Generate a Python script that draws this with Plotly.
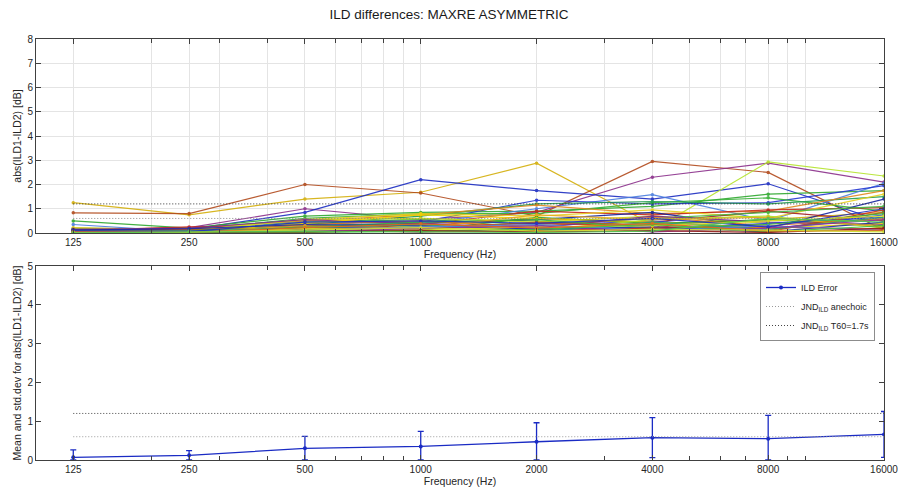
import plotly.graph_objects as go

# ---------------- data ----------------
freqs = [125, 250, 500, 1000, 2000, 4000, 8000, 16000]
freq_labels = ["125", "250", "500", "1000", "2000", "4000", "8000", "16000"]
minor_freqs = [200, 300, 400, 600, 700, 800, 900, 3000, 5000, 6000, 7000, 9000, 10000]
top_yticks = [0, 1, 2, 3, 4, 5, 6, 7, 8]
bottom_yticks = [0, 1, 2, 3, 4, 5]

# individual |ILD1-ILD2| curves (dB), one per measurement position
ild_s01 = [1.25, 0.75, 1.40, 1.68, 2.88, 0.35, 0.55, 0.85]
ild_s02 = [0.83, 0.80, 2.00, 1.65, 0.70, 2.95, 2.50, 0.12]
ild_s03 = [0.10, 0.22, 1.00, 0.55, 0.85, 2.30, 2.88, 2.10]
ild_s04 = [0.10, 0.15, 0.85, 2.20, 1.75, 1.40, 2.03, 0.47]
ild_s05 = [0.08, 0.05, 0.30, 0.60, 0.50, 0.12, 2.93, 2.35]
ild_s06 = [0.50, 0.20, 0.70, 0.85, 0.90, 1.10, 1.60, 1.75]
ild_s07 = [0.35, 0.05, 0.50, 0.40, 1.00, 1.58, 0.50, 2.05]
ild_s08 = [0.15, 0.10, 0.40, 0.45, 1.35, 1.20, 1.25, 1.95]
ild_s09 = [0.20, 0.15, 0.60, 0.80, 0.80, 1.25, 1.45, 0.90]
ild_s10 = [0.10, 0.10, 0.35, 0.70, 1.20, 1.30, 1.20, 1.50]
ild_s11 = [0.15, 0.20, 0.50, 0.75, 1.15, 0.80, 0.90, 1.75]
ild_s12 = [0.10, 0.25, 0.30, 0.35, 0.90, 0.75, 0.95, 1.05]
ild_s13 = [0.22, 0.12, 0.55, 0.80, 0.70, 0.95, 0.60, 1.60]
ild_s14 = [0.05, 0.05, 0.30, 0.40, 0.55, 0.85, 0.20, 1.40]
ild_s15 = [0.12, 0.15, 0.20, 0.30, 0.60, 0.45, 0.90, 0.50]
ild_s16 = [0.05, 0.08, 0.45, 0.55, 0.35, 0.60, 0.85, 1.10]
ild_s17 = [0.08, 0.05, 0.25, 0.20, 0.30, 0.50, 0.15, 0.75]
ild_s18 = [0.05, 0.10, 0.55, 0.60, 0.45, 0.70, 0.40, 0.55]
ild_s19 = [0.10, 0.05, 0.15, 0.10, 0.65, 0.40, 0.55, 0.30]
ild_s20 = [0.04, 0.12, 0.35, 0.50, 0.25, 0.65, 0.30, 0.60]
ild_s21 = [0.06, 0.08, 0.10, 0.25, 0.40, 0.30, 0.05, 0.95]
ild_s22 = [0.15, 0.20, 0.55, 0.40, 0.20, 0.70, 0.45, 0.35]
ild_s23 = [0.02, 0.03, 0.15, 0.05, 0.20, 0.15, 0.40, 0.65]
ild_s24 = [0.03, 0.06, 0.40, 0.75, 0.60, 0.45, 0.20, 0.40]
ild_s25 = [0.05, 0.02, 0.05, 0.30, 0.10, 0.55, 0.70, 0.20]
ild_s26 = [0.08, 0.15, 0.20, 0.15, 0.45, 0.35, 0.10, 0.85]
ild_s27 = [0.02, 0.10, 0.25, 0.45, 0.55, 0.20, 0.35, 0.80]
ild_s28 = [0.12, 0.18, 0.35, 0.30, 0.15, 0.25, 0.05, 0.45]
ild_s29 = [0.02, 0.05, 0.30, 0.20, 0.75, 0.55, 0.65, 0.25]
ild_s30 = [0.03, 0.04, 0.12, 0.05, 0.10, 0.20, 0.25, 0.15]
ild_s31 = [0.07, 0.09, 0.20, 0.35, 0.05, 0.45, 0.15, 0.65]
ild_s32 = [0.01, 0.02, 0.10, 0.25, 0.35, 0.10, 0.30, 0.10]
ild_s33 = [0.04, 0.03, 0.18, 0.12, 0.25, 0.30, 0.50, 0.70]
ild_s34 = [0.06, 0.07, 0.08, 0.18, 0.30, 0.05, 0.20, 0.55]
ild_s35 = [0.03, 0.01, 0.02, 0.08, 0.15, 0.35, 0.05, 0.30]
ild_s36 = [0.02, 0.03, 0.05, 0.10, 0.05, 0.10, 0.02, 0.20]
ild_s37 = [0.09, 0.06, 0.45, 0.50, 0.40, 0.60, 0.25, 1.00]
ild_s38 = [0.05, 0.02, 0.22, 0.38, 0.20, 0.40, 0.08, 0.10]
ild_s39 = [0.02, 0.04, 0.12, 0.22, 0.08, 0.15, 0.12, 0.05]
ild_s40 = [0.01, 0.05, 0.07, 0.05, 0.02, 0.08, 0.60, 0.45]

ild_series = [ild_s01, ild_s02, ild_s03, ild_s04, ild_s05, ild_s06, ild_s07, ild_s08,
              ild_s09, ild_s10, ild_s11, ild_s12, ild_s13, ild_s14, ild_s15, ild_s16,
              ild_s17, ild_s18, ild_s19, ild_s20, ild_s21, ild_s22, ild_s23, ild_s24,
              ild_s25, ild_s26, ild_s27, ild_s28, ild_s29, ild_s30, ild_s31, ild_s32,
              ild_s33, ild_s34, ild_s35, ild_s36, ild_s37, ild_s38, ild_s39, ild_s40]

series_colors = ["#D4AF0A", "#B24A1C", "#8B2F8B", "#1C2DC2", "#B5E42C", "#2FA82F", "#4B7FE0", "#2436D2",
                 "#34B034", "#1F9C50", "#E0881E", "#C62A1E", "#E6CF1E", "#13239C", "#A22222", "#44B844",
                 "#2B3BD6", "#C8D81E", "#28A028", "#E07B1A", "#D03020", "#7A2A90", "#2040E0", "#F0D000",
                 "#A8E020", "#B05A20", "#3CB43C", "#1A2AB0", "#E8A81A", "#C83020", "#20A080", "#5080E8",
                 "#E0E020", "#9030A0", "#40C040", "#901818", "#2030C0", "#E06A1A", "#D0E030", "#50C850"]

# mean and std.dev of the error
ild_mean = [0.07, 0.12, 0.30, 0.35, 0.47, 0.575, 0.55, 0.66]
ild_std = [0.19, 0.12, 0.31, 0.39, 0.49, 0.515, 0.60, 0.59]

jnd_anechoic = 0.6
jnd_t60 = 1.2

# ---------------- styling ----------------
FONT = "Liberation Sans, Arial, sans-serif"
AXC = "#404040"
TXT = "#262626"
GRID = "#e4e4e4"
BLUE = "#1A2BC4"
DOT = "1px,2px"

fig = go.Figure()

for vals, col in zip(ild_series, series_colors):
    fig.add_trace(go.Scatter(
        x=freqs, y=vals, mode="lines+markers",
        line=dict(color=col, width=1.2),
        marker=dict(color=col, size=3.5),
        opacity=0.9,
        showlegend=False, hoverinfo="skip",
        xaxis="x", yaxis="y"))

for level, col in [(jnd_anechoic, "#8a8a8a"), (jnd_t60, "#333333")]:
    fig.add_trace(go.Scatter(
        x=[freqs[0], freqs[-1]], y=[level, level], mode="lines",
        line=dict(color=col, width=1, dash=DOT),
        showlegend=False, hoverinfo="skip",
        xaxis="x", yaxis="y"))

# bottom: mean +- std
err_minus = [min(m, s) for m, s in zip(ild_mean, ild_std)]
fig.add_trace(go.Scatter(
    x=freqs, y=ild_mean, mode="lines+markers", name="ILD Error",
    line=dict(color=BLUE, width=1.3),
    marker=dict(color=BLUE, size=4),
    error_y=dict(type="data", array=ild_std, arrayminus=err_minus, symmetric=False,
                 color=BLUE, thickness=1.3, width=3),
    xaxis="x2", yaxis="y2"))
fig.add_trace(go.Scatter(
    x=[freqs[0], freqs[-1]], y=[jnd_anechoic, jnd_anechoic], mode="lines",
    name="JND<sub>ILD</sub> anechoic",
    line=dict(color="#9a9a9a", width=1, dash=DOT),
    xaxis="x2", yaxis="y2"))
fig.add_trace(go.Scatter(
    x=[freqs[0], freqs[-1]], y=[jnd_t60, jnd_t60], mode="lines",
    name="JND<sub>ILD</sub> T60=1.7s",
    line=dict(color="#444444", width=1, dash=DOT),
    xaxis="x2", yaxis="y2"))

H = 496
W = 898
ml, mr, mt, mb = 36, 14, 39, 36
ph = H - mt - mb
top_dom = [(460 - 233) / ph, 1.0]
bot_dom = [0.0, (460 - 266) / ph]

def xaxis_common(showgrid):
    return dict(
        type="log", range=[2, 4.20412], tickvals=freqs, ticktext=freq_labels,
        ticks="inside", ticklen=5, tickcolor=AXC, tickwidth=1,
        showline=True, linecolor=AXC, linewidth=1, mirror="allticks",
        showgrid=showgrid, gridcolor=GRID, gridwidth=1, zeroline=False,
        tickfont=dict(family=FONT, size=10, color=TXT),
        ticklabeloverflow="allow",
        minor=dict(tickvals=minor_freqs, ticks="inside", ticklen=4, tickcolor=AXC,
                   showgrid=showgrid, gridcolor=GRID, gridwidth=1),
        automargin=False,
        title=dict(text="Frequency (Hz)", font=dict(family=FONT, size=10.5, color=TXT), standoff=1),
    )

def yaxis_common(rng, tv, showgrid, title):
    return dict(
        range=rng, tickvals=tv, ticks="inside", ticklen=5, tickcolor=AXC,
        showline=True, linecolor=AXC, linewidth=1, mirror="allticks",
        showgrid=showgrid, gridcolor=GRID, zeroline=False,
        tickfont=dict(family=FONT, size=10, color=TXT),
        ticklabeloverflow="allow",
        automargin=False,
        title=dict(text=title, font=dict(family=FONT, size=10.5, color=TXT), standoff=3),
    )

xa1 = xaxis_common(True)
xa1.update(domain=[0, 1], anchor="y")
xa2 = xaxis_common(False)
xa2.update(domain=[0, 1], anchor="y2")
ya1 = yaxis_common([0, 8], top_yticks, True, "abs(ILD1-ILD2) [dB]")
ya1.update(domain=top_dom, anchor="x")
ya2 = yaxis_common([0, 5], bottom_yticks, False, "Mean and std.dev for abs(ILD1-ILD2) [dB]")
ya2.update(domain=bot_dom, anchor="x2")

fig.update_layout(
    width=W, height=H,
    margin=dict(l=ml, r=mr, t=mt, b=mb),
    paper_bgcolor="white", plot_bgcolor="white",
    font=dict(family=FONT, color=TXT),
    title=dict(text="ILD differences: MAXRE ASYMMETRIC", x=0.5, xanchor="center",
               y=1 - 14 / H, yanchor="middle", yref="container",
               font=dict(family=FONT, size=13.5, color="#1a1a1a")),
    xaxis=xa1, yaxis=ya1, xaxis2=xa2, yaxis2=ya2,
    legend=dict(x=(875 - ml) / (W - ml - mr), y=(460 - 272) / ph, xanchor="right", yanchor="top",
                bgcolor="white", bordercolor="#8c8c8c", borderwidth=1,
                font=dict(family=FONT, size=9, color=TXT), tracegroupgap=0,
                itemwidth=30),
    showlegend=True,
)

fig.write_html("out.html")
